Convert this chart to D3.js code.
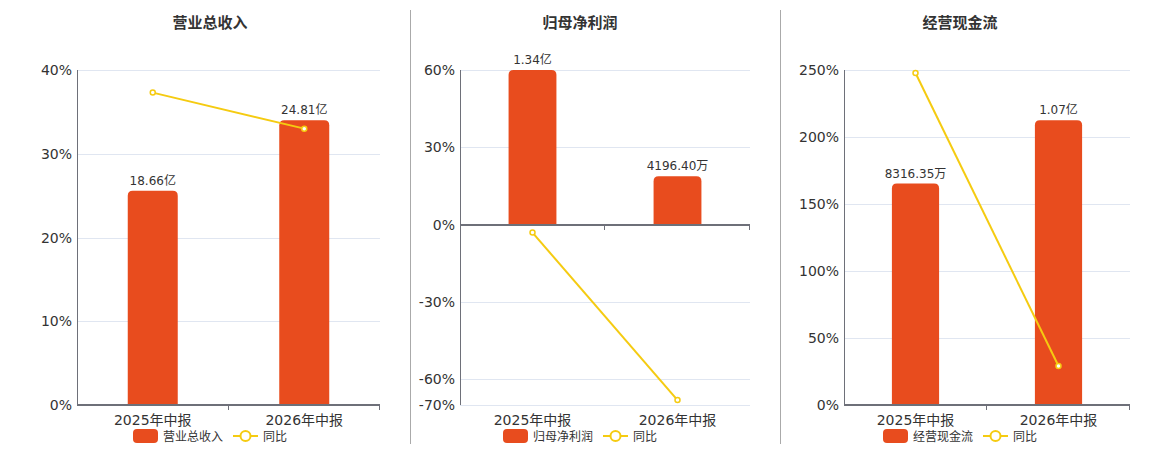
<!DOCTYPE html>
<html>
<head>
<meta charset="utf-8">
<script src="https://cdn.jsdelivr.net/npm/d3@7"></script>
<style>
  body { margin: 0; background: #fff; }
  svg text { font-family: "DejaVu Sans", "Noto Sans CJK SC", sans-serif; }
</style>
</head>
<body>
<div id="chart"></div>
<script>
const WIDTH = 1160
const HEIGHT = 450

// data
const categories = ['2025年中报', '2026年中报']
const titles = ['营业总收入', '归母净利润', '经营现金流']
const barValues = [
  [18.66, 24.81],      // 亿
  [1.34, 0.419640],    // 亿
  [0.831635, 1.07]     // 亿
]
const barLabels = [
  ['18.66亿', '24.81亿'],
  ['1.34亿', '4196.40万'],
  ['8316.35万', '1.07亿']
]
const yoyValues = [
  [37.3, 33.0],
  [-3.1, -68.1],
  [247.8, 29.1]
]
const yTicks = [
  [0, 10, 20, 30, 40],
  [-70, -60, -30, 0, 30, 60],
  [0, 50, 100, 150, 200, 250]
]

// layout
const panels = [
  { left: 77, right: 380, titleX: 210, legendX: 133, barHead: 1.176 },
  { left: 460, right: 750, titleX: 580, legendX: 503, barHead: 1.0 },
  { left: 844, right: 1130, titleX: 960, legendX: 883, barHead: 1.176 }
]
const TOP = 70
const BOTTOM = 405
const BAR_COLOR = '#E84C1E'
const LINE_COLOR = '#F5CB11'
const AXIS_COLOR = '#6E7079'
const GRID_COLOR = '#E0E6F1'
const TEXT_COLOR = '#333'

const svg = d3.select('#chart')
  .append('svg')
  .attr('width', WIDTH)
  .attr('height', HEIGHT)

// dividers
;[410.5, 780.5].forEach(x => {
  svg.append('line')
    .attr('x1', x).attr('x2', x)
    .attr('y1', 10).attr('y2', 444)
    .attr('stroke', '#aaa')
    .attr('stroke-width', 1)
})

panels.forEach((p, i) => {
  const g = svg.append('g')
  const ticks = yTicks[i]
  const y = d3.scaleLinear()
    .domain(d3.extent(ticks))
    .range([BOTTOM, TOP])
  const x = d3.scaleBand()
    .domain(categories)
    .range([p.left, p.right])
  const barMax = d3.max(barValues[i]) * p.barHead
  const yBar = d3.scaleLinear()
    .domain([0, barMax])
    .range([y(0), y(0) - (y(0) - TOP) * 1])
  const bw = x.bandwidth() * 0.33

  // title
  g.append('text')
    .attr('x', p.titleX)
    .attr('y', 28)
    .attr('text-anchor', 'middle')
    .attr('font-size', 15)
    .attr('font-weight', 'bold')
    .attr('fill', TEXT_COLOR)
    .text(titles[i])

  // grid
  g.selectAll('.grid')
    .data(ticks.filter(t => t !== 0))
    .enter()
    .append('line')
    .attr('x1', p.left).attr('x2', p.right)
    .attr('y1', d => Math.round(y(d)) + 0.5)
    .attr('y2', d => Math.round(y(d)) + 0.5)
    .attr('stroke', GRID_COLOR)

  // y labels
  g.selectAll('.ylab')
    .data(ticks)
    .enter()
    .append('text')
    .attr('x', p.left - 5)
    .attr('y', d => y(d) + 5)
    .attr('text-anchor', 'end')
    .attr('font-size', 14)
    .attr('fill', TEXT_COLOR)
    .text(d => d + '%')

  // y axis line
  g.append('line')
    .attr('x1', p.left + 0.5).attr('x2', p.left + 0.5)
    .attr('y1', TOP).attr('y2', BOTTOM)
    .attr('stroke', AXIS_COLOR)

  // bars
  g.selectAll('.bar')
    .data(barValues[i])
    .enter()
    .append('path')
    .attr('fill', BAR_COLOR)
    .attr('d', (d, j) => {
      const x0 = x(categories[j]) + (x.bandwidth() - bw) / 2
      const y0 = yBar(d)
      const h = yBar(0) - y0
      const r = Math.min(5, h)
      return `M${x0},${yBar(0)} V${y0 + r} Q${x0},${y0} ${x0 + r},${y0} H${x0 + bw - r} Q${x0 + bw},${y0} ${x0 + bw},${y0 + r} V${yBar(0)} Z`
    })

  // bar labels
  g.selectAll('.blab')
    .data(barValues[i])
    .enter()
    .append('text')
    .attr('x', (d, j) => x(categories[j]) + x.bandwidth() / 2)
    .attr('y', d => yBar(d) - 6)
    .attr('text-anchor', 'middle')
    .attr('font-size', 12)
    .attr('fill', TEXT_COLOR)
    .text((d, j) => barLabels[i][j])

  // x axis
  const y0 = Math.round(y(0))
  g.append('line')
    .attr('x1', p.left).attr('x2', p.right)
    .attr('y1', y0).attr('y2', y0)
    .attr('stroke', AXIS_COLOR)
    .attr('stroke-width', 2)
  const edges = categories.map(c => x(c)).concat([p.right])
  g.selectAll('.xtick')
    .data(edges.slice(1))
    .enter()
    .append('line')
    .attr('x1', d => Math.round(d) - 0.5).attr('x2', d => Math.round(d) - 0.5)
    .attr('y1', y0).attr('y2', y0 + 5)
    .attr('stroke', AXIS_COLOR)

  // x labels
  g.selectAll('.xlab')
    .data(categories)
    .enter()
    .append('text')
    .attr('x', d => x(d) + x.bandwidth() / 2)
    .attr('y', 425)
    .attr('text-anchor', 'middle')
    .attr('font-size', 14)
    .attr('fill', TEXT_COLOR)
    .text(d => d)

  // yoy line
  const line = d3.line()
    .x((d, j) => x(categories[j]) + x.bandwidth() / 2)
    .y(d => y(d))
  g.append('path')
    .datum(yoyValues[i])
    .attr('d', line)
    .attr('fill', 'none')
    .attr('stroke', LINE_COLOR)
    .attr('stroke-width', 2)
  g.selectAll('.pt')
    .data(yoyValues[i])
    .enter()
    .append('circle')
    .attr('cx', (d, j) => x(categories[j]) + x.bandwidth() / 2)
    .attr('cy', d => y(d))
    .attr('r', 2.5)
    .attr('fill', '#fff')
    .attr('stroke', LINE_COLOR)
    .attr('stroke-width', 1.5)

  // legend
  const lx = p.legendX
  g.append('rect')
    .attr('x', lx).attr('y', 429)
    .attr('width', 25).attr('height', 14)
    .attr('rx', 4)
    .attr('fill', BAR_COLOR)
  g.append('text')
    .attr('x', lx + 30).attr('y', 441)
    .attr('font-size', 12)
    .attr('fill', TEXT_COLOR)
    .text(titles[i])
  g.append('line')
    .attr('x1', lx + 100).attr('x2', lx + 125)
    .attr('y1', 436).attr('y2', 436)
    .attr('stroke', LINE_COLOR)
    .attr('stroke-width', 2)
  g.append('circle')
    .attr('cx', lx + 112.5).attr('cy', 436)
    .attr('r', 5)
    .attr('fill', '#fff')
    .attr('stroke', LINE_COLOR)
    .attr('stroke-width', 2)
  g.append('text')
    .attr('x', lx + 130).attr('y', 441)
    .attr('font-size', 12)
    .attr('fill', TEXT_COLOR)
    .text('同比')
})
</script>
</body>
</html>
